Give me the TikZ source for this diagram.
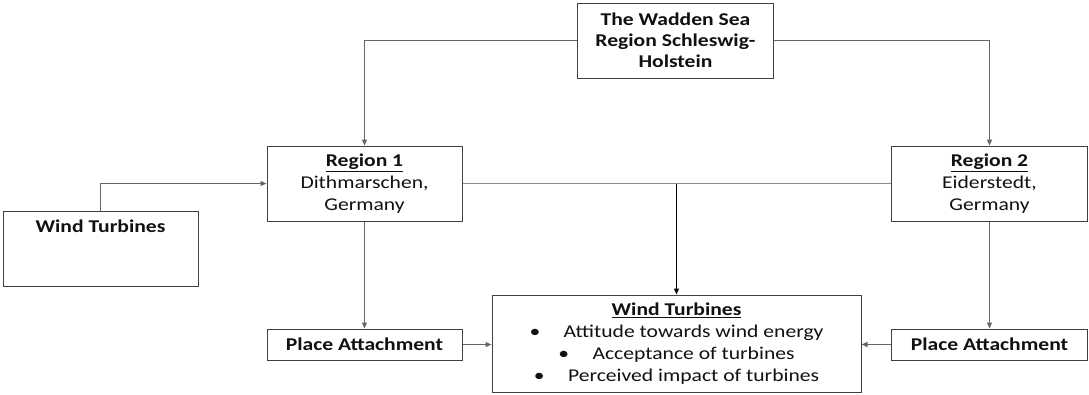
\documentclass[tikz,border=0pt]{standalone}
\usepackage{fontspec}
\setmainfont{Carlito}[FakeStretch=1.2]
\usetikzlibrary{arrows.meta}
\definecolor{boxc}{HTML}{404040}
\definecolor{linec}{HTML}{666666}
\definecolor{lightc}{HTML}{8C8C8C}
\definecolor{txt}{HTML}{111111}
\tikzset{
  box/.style={draw=boxc, line width=1pt, inner sep=0pt, align=center, text=txt,
    font=\fontsize{18}{22}\selectfont},
  conn/.style={draw=linec, line width=1.2pt, -{Triangle[length=6pt,width=5pt]}},
  plain/.style={draw=lightc, line width=1.2pt},
}
\begin{document}
\begin{tikzpicture}[x=1pt,y=-1pt]
\useasboundingbox[fill=white] (0,0) rectangle (1089,394);
\node[box, minimum width=196pt, minimum height=75pt, font=\fontsize{18}{21}\selectfont] (top) at (675.5,40.5)
  {\textbf{The Wadden Sea}\\\textbf{Region Schleswig-}\\\textbf{Holstein}};
\node[box, minimum width=195pt, minimum height=75pt] (r1) at (364.5,183.5)
  {\textbf{\underline{Region 1}}\\Dithmarschen,\\Germany};
\node[box, minimum width=196pt, minimum height=75pt] (r2) at (989.5,183.5)
  {\textbf{\underline{Region 2}}\\Eiderstedt,\\Germany};
\node[box, minimum width=195pt, minimum height=75pt] (wtl) at (100.5,248.5)
  {\textbf{Wind Turbines}\\\mbox{}\\\mbox{}};
\node[box, minimum width=195pt, minimum height=31pt] (pal) at (364.5,344.5)
  {\textbf{Place Attachment}};
\node[box, minimum width=196pt, minimum height=31pt] (par) at (989.5,344.5)
  {\textbf{Place Attachment}};
\node[box, minimum width=369pt, minimum height=97pt] (bot) at (676.5,343.5)
  {\textbf{\underline{Wind Turbines}}\\
   \textbullet\hspace{1.3em}Attitude towards wind energy\\
   \textbullet\hspace{1.3em}Acceptance of turbines\\
   \textbullet\hspace{1.3em}Perceived impact of turbines};
\draw[conn] (top.west) -| (r1.north);
\draw[conn] (top.east) -| (r2.north);
\draw[conn] (wtl.north) |- (r1.west);
\draw[plain] (r1.east) -- (r2.west);
\draw[conn, draw=black] (r1.east -| bot.north) -- (bot.north);
\draw[conn] (r1.south) -- (pal.north);
\draw[conn] (r2.south) -- (par.north);
\draw[conn] (pal.east) -- (pal.east -| bot.west);
\draw[conn] (par.west) -- (par.west -| bot.east);
\end{tikzpicture}
\end{document}
